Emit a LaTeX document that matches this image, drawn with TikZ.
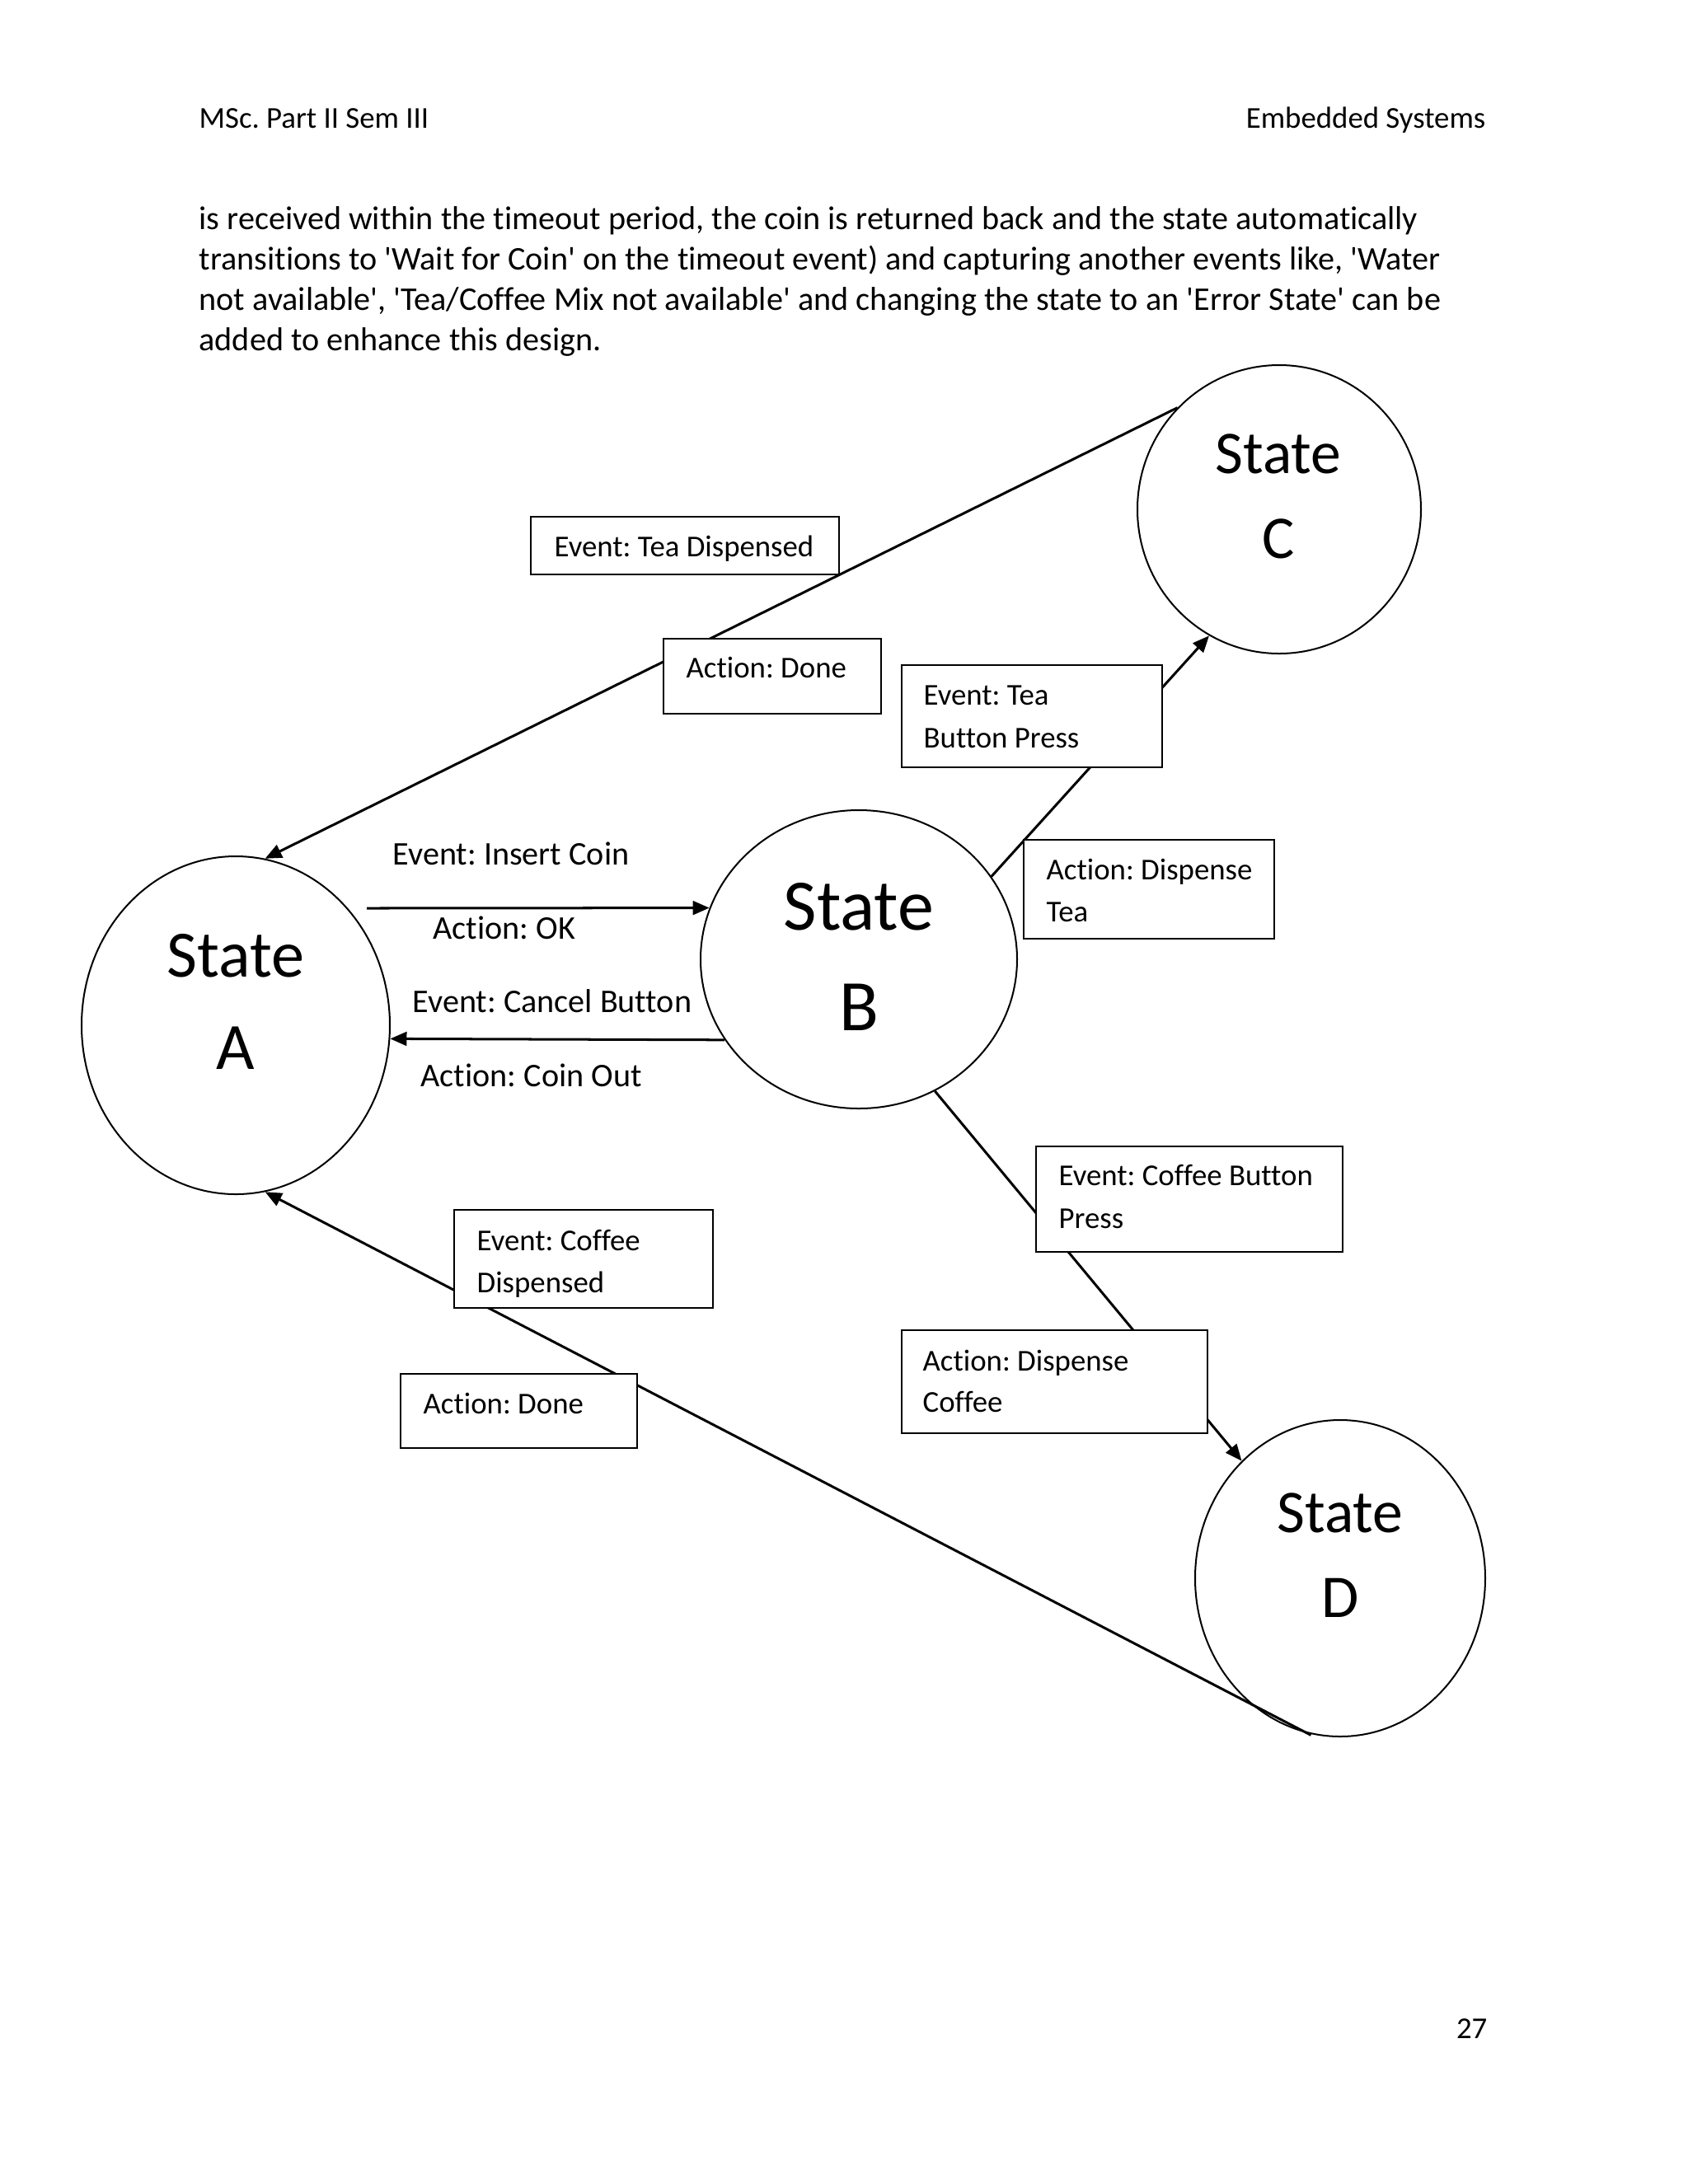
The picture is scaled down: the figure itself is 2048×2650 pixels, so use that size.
\documentclass[tikz,border=0pt]{standalone}
\usepackage{fontspec}
\setmainfont{Carlito}[Ligatures=NoCommon]
\usetikzlibrary{arrows.meta,shapes.geometric}
\newdimen\pxu \pxu=0.29883pt
\newcommand{\sq}{\textquotesingle}
\begin{document}
\frenchspacing
\begin{tikzpicture}[x=0.29883pt,y=-0.29883pt,
  state/.style={draw, ellipse, line width=0.6pt, inner sep=0pt},
  box/.style={draw, fill=white, line width=0.8pt, inner sep=0pt},
  conn/.style={line width=0.9pt},
  arr/.style={conn, -{Triangle[length=6pt,width=5pt]}},
  txt/.style={anchor=base west, inner sep=0pt, font=\fontsize{11}{13}\selectfont},
  bigtxt/.style={txt, font=\fontsize{12}{14.6}\selectfont},
  stxt/.style={anchor=base, inner sep=0pt}]
\fill[white] (0,0) rectangle (2048,2650);
\useasboundingbox (0,0) rectangle (2048,2650);

% header and paragraph
\node[txt] (h1) at (241,155) {MSc. Part II Sem III};
\node[txt, anchor=base east] (h2) at (1803,155) {Embedded Systems};
\node[bigtxt] (p1) at (241,278) {is received within the timeout period, the coin is returned back and the state automatically};
\node[bigtxt] (p2) at (241,327) {transitions to \sq Wait for Coin\sq{} on the timeout event) and capturing another events like, \sq Water};
\node[bigtxt] (p3) at (241,376) {not available\sq, \sq Tea/Coffee Mix not available\sq{} and changing the state to an \sq Error State\sq{} can be};
\node[bigtxt] (p4) at (241,425) {added to enhance this design.};
\node[txt, anchor=base east] (pg) at (1805,2473) {27};

% states
\node[state, minimum width=374*\pxu, minimum height=410*\pxu] (A) at (286,1244) {};
\node[state, minimum width=384*\pxu, minimum height=362*\pxu] (B) at (1042,1164) {};
\node[state, minimum width=344*\pxu, minimum height=350*\pxu] (C) at (1552,618) {};
\node[state, minimum width=352*\pxu, minimum height=384*\pxu] (D) at (1626,1915) {};

\node[stxt, font=\fontsize{24}{24}\selectfont] (A1) at (286,1185) {State};
\node[stxt, font=\fontsize{24}{24}\selectfont] (A2) at (286,1297) {A};
\node[stxt, font=\fontsize{26.3}{26}\selectfont] (B1) at (1042,1128) {State};
\node[stxt, font=\fontsize{26.3}{26}\selectfont] (B2) at (1042,1250) {B};
\node[stxt, font=\fontsize{22}{22}\selectfont] (C1) at (1551,574) {State};
\node[stxt, font=\fontsize{22}{22}\selectfont] (C2) at (1551,677) {C};
\node[stxt, font=\fontsize{22}{22}\selectfont] (D1) at (1626,1859) {State};
\node[stxt, font=\fontsize{22}{22}\selectfont] (D2) at (1626,1962) {D};

% connectors
\coordinate (ic) at (445,1102);
\draw[arr] (ic) -- (B.161);
\draw[arr] (B.211) -- (A.355);
\draw[arr] (C.135) -- (A.80);
\draw[arr] (B.32) -- (C.241);
\draw[arr] (B.300) -- (D.130);
\draw[arr, shorten <=-1.5pt] (D.258) -- (A.280);

% labels on the horizontal arrows
\node[bigtxt] (l1) at (476,1049) {Event: Insert Coin};
\node[bigtxt] (l2) at (525,1139) {Action: OK};
\node[bigtxt] (l3) at (500,1228) {Event: Cancel Button};
\node[bigtxt] (l4) at (510,1318) {Action: Coin Out};

% boxes
\node[box, minimum width=374*\pxu, minimum height=70*\pxu] (b1) at (831,662) {};
\node[box, minimum width=264*\pxu, minimum height=91*\pxu] (b2) at (937,820.5) {};
\node[box, minimum width=316*\pxu, minimum height=124*\pxu] (b3) at (1252,869) {};
\node[box, minimum width=304*\pxu, minimum height=120*\pxu] (b4) at (1394,1079) {};
\node[box, minimum width=372*\pxu, minimum height=128*\pxu] (b5) at (1443,1455) {};
\node[box, minimum width=371*\pxu, minimum height=125*\pxu] (b6) at (1279.5,1676.5) {};
\node[box, minimum width=314*\pxu, minimum height=119*\pxu] (b7) at (708,1527.5) {};
\node[box, minimum width=287*\pxu, minimum height=90*\pxu] (b8) at (629.5,1712) {};

\node[txt] (t1) at (672,675) {Event: Tea Dispensed};
\node[txt] (t2) at (832,822) {Action: Done};
\node[txt] (t3a) at (1120,855) {Event: Tea};
\node[txt] (t3b) at (1120,907) {Button Press};
\node[txt] (t4a) at (1269,1067) {Action: Dispense};
\node[txt] (t4b) at (1269,1118) {Tea};
\node[txt] (t5a) at (1284,1438) {Event: Coffee Button};
\node[txt] (t5b) at (1284,1490) {Press};
\node[txt] (t6a) at (1119,1663) {Action: Dispense};
\node[txt] (t6b) at (1119,1713) {Coffee};
\node[txt] (t7a) at (578,1517) {Event: Coffee};
\node[txt] (t7b) at (578,1568) {Dispensed};
\node[txt] (t8) at (513,1715) {Action: Done};
\end{tikzpicture}
\end{document}
